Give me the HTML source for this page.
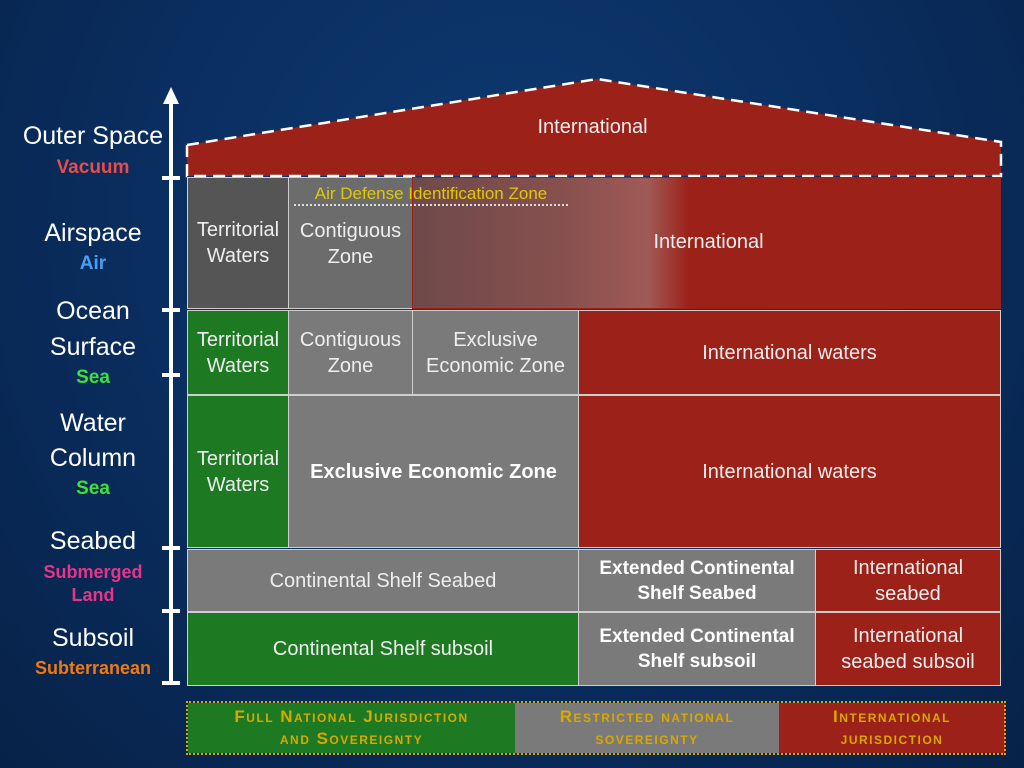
<!DOCTYPE html>
<html><head><meta charset="utf-8"><style>
*{margin:0;padding:0;box-sizing:border-box}
body{width:1024px;height:768px;overflow:hidden;position:relative;font-family:"Liberation Sans",sans-serif;
background:radial-gradient(ellipse at 50% 30%,#0e3a72 0%,#0a2e60 50%,#072248 100%);}
.c{position:absolute;display:flex;align-items:center;justify-content:center;text-align:center;color:#eee;font-size:20px;line-height:26px;border:1px solid #cfcfcf}
.r{background:#9c2219}.g{background:#7a7a7a}.gr{background:#1e7a22}.b{font-weight:bold;color:#fff}
.l{position:absolute;width:170px;text-align:center;left:8px;color:#fff;font-size:25px;line-height:28px}
.s{position:absolute;width:170px;text-align:center;left:8px;font-size:19px;font-weight:bold;line-height:22px}
.tick{position:absolute;left:162px;width:18px;height:4px;background:#fff}
.lg{position:absolute;top:703px;height:50px;display:flex;align-items:center;justify-content:center;text-align:center;color:#d9a800;font-size:17px;letter-spacing:1.5px;font-variant:small-caps;font-weight:bold;line-height:22px}
</style></head><body>
<svg style="position:absolute;left:0;top:0" width="1024" height="768">
<polygon points="187,145 597,79 1001,142 1001,176 187,176" fill="#9c2219" stroke="#fff" stroke-width="2.5" stroke-dasharray="12,7"/>
<line x1="171" y1="100" x2="171" y2="684" stroke="#fff" stroke-width="4"/>
<polygon points="163,104 171,87 179,104" fill="#fff"/>
</svg>
<div class="tick" style="top:176px"></div><div class="tick" style="top:308px"></div><div class="tick" style="top:373px"></div><div class="tick" style="top:546px"></div><div class="tick" style="top:609px"></div><div class="tick" style="top:681px"></div>
<div style="position:absolute;left:520px;top:116px;width:145px;text-align:center;color:#eee;font-size:20px">International</div>

<div class="l" style="top:122px">Outer Space</div><div class="s" style="top:157px;color:#e84c4c">Vacuum</div>
<div class="l" style="top:219px">Airspace</div><div class="s" style="top:253px;color:#4b9ff0">Air</div>
<div class="l" style="top:297px">Ocean</div><div class="l" style="top:333px">Surface</div><div class="s" style="top:367px;color:#3ee03e">Sea</div>
<div class="l" style="top:409px">Water</div><div class="l" style="top:444px">Column</div><div class="s" style="top:478px;color:#3ee03e">Sea</div>
<div class="l" style="top:527px">Seabed</div><div class="s" style="top:561px;color:#e8338a;font-size:18px">Submerged</div><div class="s" style="top:584px;color:#e8338a;font-size:18px">Land</div>
<div class="l" style="top:624px">Subsoil</div><div class="s" style="top:657px;color:#f07a10;font-size:18px">Subterranean</div>

<div class="c" style="left:187px;top:177px;width:102px;height:132px;background:#555">Territorial<br>Waters</div>
<div class="c" style="left:288px;top:177px;width:125px;height:132px;background:#6c6c6c;align-items:flex-start;padding-top:40px">Contiguous<br>Zone</div>
<div class="c" style="left:412px;top:177px;width:589px;height:132px;background:linear-gradient(90deg,#6e4a4a 0%,#86504e 25%,#a05a56 40%,#9c2219 47%,#9c2219 100%);border-color:#9c2219"><span style="position:relative;left:2px;top:-1px">International</span></div>
<div style="position:absolute;left:294px;top:184px;width:274px;height:22px;border-bottom:2px dotted #ddd;color:#e0c800;font-size:17px;text-align:center">Air Defense Identification Zone</div>

<div class="c gr" style="left:187px;top:310px;width:102px;height:85px">Territorial<br>Waters</div>
<div class="c g" style="left:288px;top:310px;width:125px;height:85px">Contiguous<br>Zone</div>
<div class="c g" style="left:412px;top:310px;width:167px;height:85px">Exclusive<br>Economic Zone</div>
<div class="c r" style="left:578px;top:310px;width:423px;height:85px">International waters</div>

<div class="c gr" style="left:187px;top:395px;width:102px;height:153px">Territorial<br>Waters</div>
<div class="c g b" style="left:288px;top:395px;width:291px;height:153px">Exclusive Economic Zone</div>
<div class="c r" style="left:578px;top:395px;width:423px;height:153px">International waters</div>

<div class="c g" style="left:187px;top:549px;width:392px;height:63px">Continental Shelf Seabed</div>
<div class="c g b" style="left:578px;top:549px;width:238px;height:63px;font-size:19px;line-height:25px">Extended Continental<br>Shelf Seabed</div>
<div class="c r" style="left:815px;top:549px;width:186px;height:63px">International<br>seabed</div>

<div class="c gr" style="left:187px;top:612px;width:392px;height:74px">Continental Shelf subsoil</div>
<div class="c g b" style="left:578px;top:612px;width:238px;height:74px;font-size:19px;line-height:25px">Extended Continental<br>Shelf subsoil</div>
<div class="c r" style="left:815px;top:612px;width:186px;height:74px">International<br>seabed subsoil</div>

<div class="lg" style="left:188px;width:327px;background:#1e7a22">Full National Jurisdiction<br>and Sovereignty</div>
<div class="lg" style="left:515px;width:264px;background:#7a7a7a">Restricted national<br>sovereignty</div>
<div class="lg" style="left:779px;width:226px;background:#9c2219">International<br>jurisdiction</div>
<div style="position:absolute;left:186px;top:701px;width:820px;height:54px;border:2px dotted #d9a800"></div>
</body></html>
